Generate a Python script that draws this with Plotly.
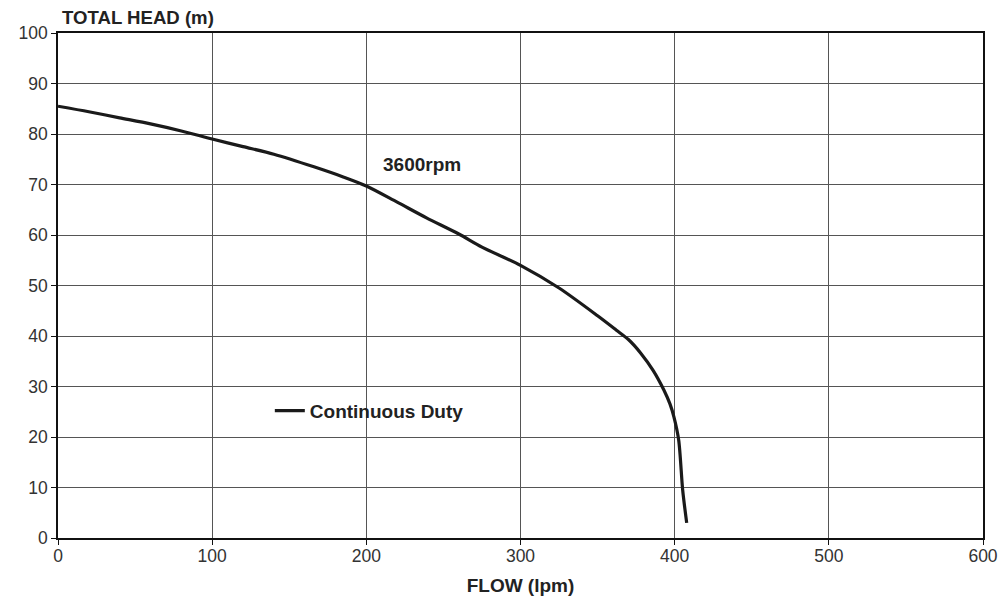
import plotly.graph_objects as go

flow = [0, 20, 40, 60, 80, 100, 120, 140, 166, 185, 200, 220, 239, 260, 275, 300, 325, 350, 362, 370, 378, 386, 393, 397, 399.5, 402.6, 405.2, 407.8]
head = [85.5, 84.4, 83.2, 82.0, 80.6, 79.0, 77.5, 76.0, 73.5, 71.5, 69.7, 66.5, 63.4, 60.2, 57.6, 54.0, 49.5, 44.0, 41.2, 39.3, 36.6, 33.2, 29.3, 26.5, 24.0, 19.4, 9.5, 3.0]
series_name = "Continuous Duty"
speed_label = "3600rpm"
x_ticks = [0, 100, 200, 300, 400, 500, 600]
y_ticks = [0, 10, 20, 30, 40, 50, 60, 70, 80, 90, 100]

FONT = "Liberation Sans, Arial, sans-serif"

fig = go.Figure()
fig.add_trace(go.Scatter(x=flow, y=head, mode="lines", name=series_name,
                         line=dict(color="#1a1a1a", width=3.2, shape="spline", smoothing=0.8)))

fig.add_annotation(x=236, y=73.9, text="<b>" + speed_label + "</b>", showarrow=False,
                   font=dict(family=FONT, size=19, color="#222"))

fig.update_layout(
    width=1008, height=598,
    margin=dict(l=50, r=33, t=25, b=68),
    paper_bgcolor="white", plot_bgcolor="white",
    font=dict(family=FONT, size=17.5, color="#333"),
    showlegend=True,
    legend=dict(x=0.229, y=0.252, xanchor="left", yanchor="middle",
                bgcolor="rgba(0,0,0,0)", font=dict(family=FONT, size=19, color="#222", weight="bold"),
                itemwidth=30),
    title=dict(text="<b>TOTAL HEAD (m)</b>", x=54/1008, xanchor="left", y=1 - 9.5/598, yanchor="middle",
               font=dict(family=FONT, size=18.6, color="#222")),
)
fig.update_xaxes(range=[0, 600], tickvals=x_ticks, showgrid=True, gridcolor="#555", gridwidth=1,
                 showline=True, linecolor="#111", linewidth=1.5, mirror=True,
                 ticks="outside", ticklen=5, tickcolor="#111", zeroline=False,
                 ticklabelstandoff=-4,
                 title=dict(text="<b>FLOW (lpm)</b>", standoff=14, font=dict(family=FONT, size=19, color="#222")))
fig.update_yaxes(range=[0, 100], tickvals=y_ticks, showgrid=True, gridcolor="#555", gridwidth=1,
                 showline=True, linecolor="#111", linewidth=1.5, mirror=True,
                 ticks="outside", ticklen=5, tickcolor="#111", zeroline=False)

fig.write_html("out.html")
